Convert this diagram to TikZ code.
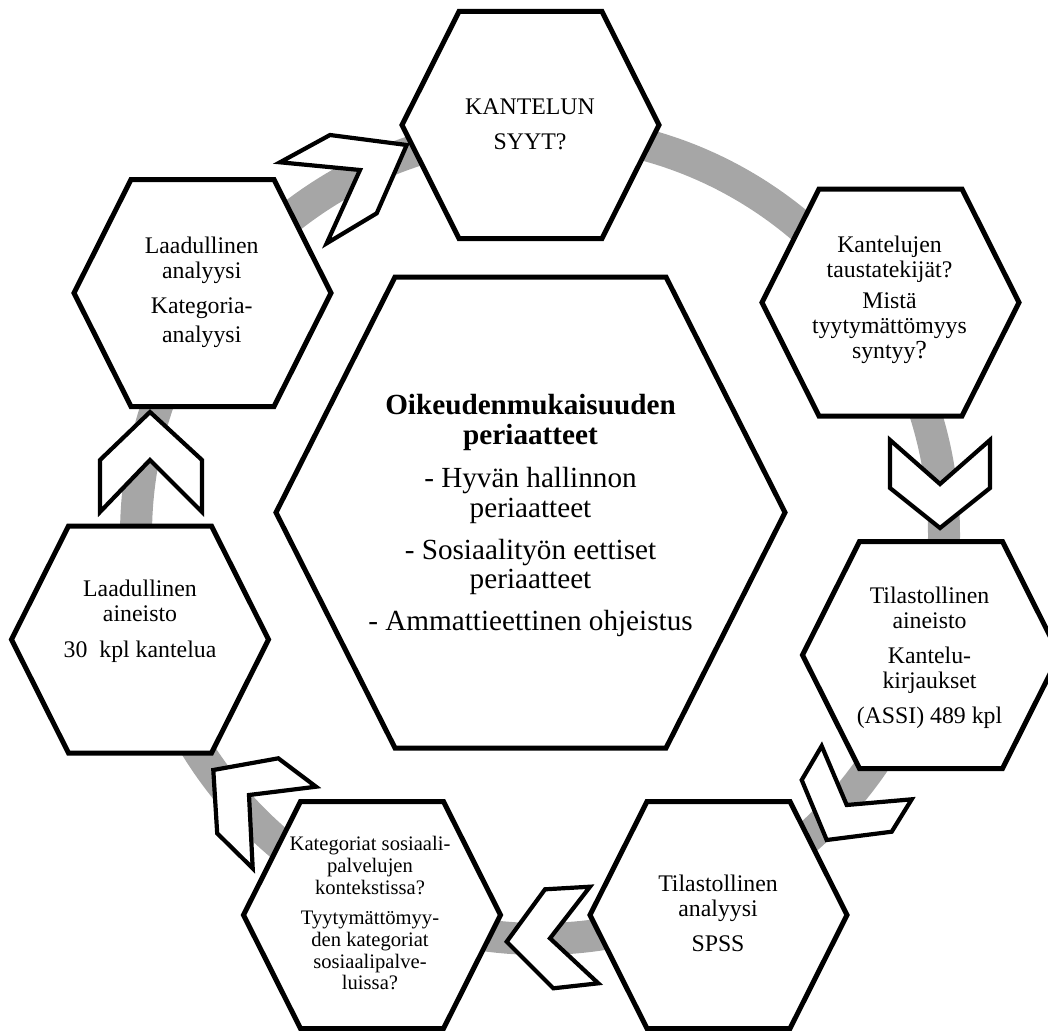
\documentclass[tikz,border=0pt]{standalone}
\usepackage{fontspec}
\setmainfont{Liberation Serif}
\definecolor{ringgrey}{RGB}{166,166,166}

\begin{document}
\begin{tikzpicture}[x=1pt,y=1pt]
            \tikzset{hexline/.style={draw=black, fill=white, line width=5pt},
                     chevline/.style={draw=black, fill=white, line width=4.2pt},
                     hexnote/.style={align=center, inner sep=0pt, font=\fontsize{23.8}{25}\selectfont},
                     smallnote/.style={align=center, inner sep=0pt, font=\fontsize{20.6}{21.7}\selectfont},
                     bignote/.style={align=center, inner sep=0pt, font=\fontsize{29.2}{29.5}\selectfont}}
            \useasboundingbox (0,0) rectangle (1048,-1030);
            \draw [ringgrey, line width=32pt] (540,-535) circle (404);
            % hexagons
            \draw [hexline] (530.5,-125) +(-128.5,0) -- +(-71.5,113.5) -- +(71.5,113.5) -- +(128.5,0) -- +(71.5,-113.5) -- +(-71.5,-113.5) -- cycle;
            \draw [hexline] (890.5,-302.5) +(-128.5,0) -- +(-71.5,113.5) -- +(71.5,113.5) -- +(128.5,0) -- +(71.5,-113.5) -- +(-71.5,-113.5) -- cycle;
            \draw [hexline] (931,-655) +(-128.5,0) -- +(-71.5,113.5) -- +(71.5,113.5) -- +(128.5,0) -- +(71.5,-113.5) -- +(-71.5,-113.5) -- cycle;
            \draw [hexline] (718.5,-915) +(-128.5,0) -- +(-71.5,113.5) -- +(71.5,113.5) -- +(128.5,0) -- +(71.5,-113.5) -- +(-71.5,-113.5) -- cycle;
            \draw [hexline] (372,-915) +(-128.5,0) -- +(-71.5,113.5) -- +(71.5,113.5) -- +(128.5,0) -- +(71.5,-113.5) -- +(-71.5,-113.5) -- cycle;
            \draw [hexline] (140,-639.5) +(-128.5,0) -- +(-71.5,113.5) -- +(71.5,113.5) -- +(128.5,0) -- +(71.5,-113.5) -- +(-71.5,-113.5) -- cycle;
            \draw [hexline] (202.5,-293) +(-128.5,0) -- +(-71.5,113.5) -- +(71.5,113.5) -- +(128.5,0) -- +(71.5,-113.5) -- +(-71.5,-113.5) -- cycle;
            \draw [hexline] (530.5,-512.5) +(-254.5,0) -- +(-135.5,235.5) -- +(135.5,235.5) -- +(254.5,0) -- +(135.5,-235.5) -- +(-135.5,-235.5) -- cycle;
            % chevrons
            \draw [chevline] (406.7,-145) -- (330,-135) -- (280,-162.3) -- (360,-170) -- (326.7,-243.3) -- (376.7,-213.3) -- cycle;
            \draw [chevline] (940,-528) -- (890,-488) -- (890,-440) -- (940,-484) -- (990,-440) -- (990,-488) -- cycle;
            \draw [chevline] (826.7,-840) -- (801.7,-780) -- (821.7,-746) -- (846.7,-805) -- (911.7,-799.3) -- (891.7,-831.7) -- cycle;
            \draw [chevline] (506.7,-941.7) -- (545,-889.3) -- (590,-886.7) -- (550,-938.3) -- (598.3,-983.3) -- (553.3,-988.3) -- cycle;
            \draw [chevline] (213.3,-770) -- (278.3,-758.3) -- (316,-786.7) -- (249,-795) -- (252.7,-868.3) -- (217.2,-833.3) -- cycle;
            \draw [chevline] (150,-412) -- (202,-460) -- (202,-512) -- (150,-460) -- (100,-512) -- (100,-460) -- cycle;
            % texts
            \node [hexnote] (syyt) at (530,-124.8) {KANTELUN\\[10pt]SYYT?};
            \node [hexnote] (tausta) at (889.5,-299.6) {Kantelujen\\taustatekijät?\\[6pt]Mistä\\tyytymättömyys\\syntyy{\fontsize{26}{25}\selectfont ?}};
            \node [hexnote] (tilaineisto) at (929.5,-657.4) {Tilastollinen\\aineisto\\[10pt]Kantelu-\\kirjaukset\\[10pt](ASSI) 489 kpl};
            \node [hexnote] (tilanalyysi) at (718,-913.5) {Tilastollinen\\analyysi\\[10pt]SPSS};
            \node [smallnote] (kategoriat) at (370,-913.3) {Kategoriat sosiaali-\\palvelujen\\kontekstissa?\\[9pt]Tyytymättömyy-\\den kategoriat\\sosiaalipalve-\\luissa?};
            \node [hexnote] (laadaineisto) at (140,-621.5) {Laadullinen\\aineisto\\[11pt]30\ \ kpl kantelua};
            \node [hexnote] (laadanalyysi) at (201.7,-292.5) {Laadullinen\\analyysi\\[10pt]Kategoria-\\[4pt]analyysi};
            \node [bignote] (periaatteet) at (530.5,-515.5) {\textbf{Oikeudenmukaisuuden}\\\textbf{periaatteet}\\[14pt]- Hyvän hallinnon\\periaatteet\\[12.5pt]- Sosiaalityön eettiset\\periaatteet\\[12.5pt]- Ammattieettinen ohjeistus};
        \end{tikzpicture}
\end{document}
